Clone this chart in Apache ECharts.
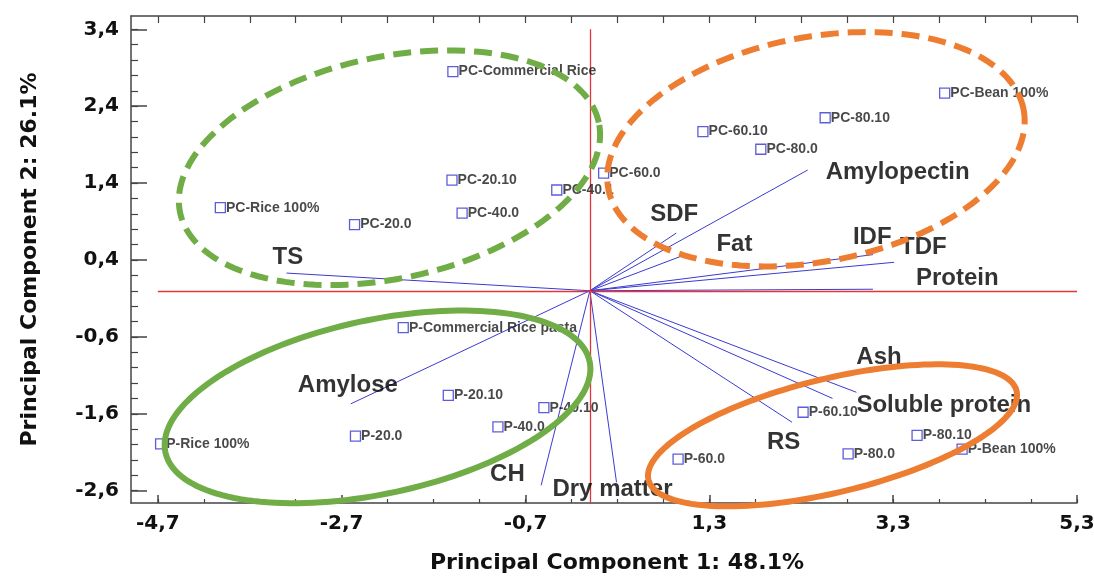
<!DOCTYPE html>
<html>
<head>
<meta charset="utf-8">
<title>PCA biplot</title>
<script src="https://cdn.jsdelivr.net/npm/echarts@6/dist/echarts.min.js"></script>
<style>
  html, body { margin: 0; padding: 0; background: #fff; }
  #biplot { width: 1094px; height: 576px; }
</style>
</head>
<body>
<div id="biplot"></div>
<script>
// scores of the samples (PC1, PC2)
const sampleNames = ['PC-Commercial Rice', 'PC-Rice 100%', 'PC-20.0', 'PC-20.10', 'PC-40.0', 'PC-40.1',
    'PC-60.0', 'PC-60.10', 'PC-80.0', 'PC-80.10', 'PC-Bean 100%',
    'P-Commercial Rice pasta', 'P-Rice 100%', 'P-20.0', 'P-20.10', 'P-40.0', 'P-40.10',
    'P-60.0', 'P-60.10', 'P-80.0', 'P-80.10', 'P-Bean 100%'];
const samplePC1 = [-1.49, -4.02, -2.56, -1.50, -1.39, -0.36, 0.15, 1.23, 1.86, 2.56, 3.86,
    -2.03, -4.67, -2.55, -1.54, -1.00, -0.50, 0.96, 2.32, 2.81, 3.56, 4.05];
const samplePC2 = [2.85, 1.08, 0.86, 1.44, 1.01, 1.31, 1.53, 2.07, 1.84, 2.25, 2.57,
    -0.48, -1.99, -1.89, -1.36, -1.77, -1.52, -2.19, -1.58, -2.12, -1.88, -2.06];

// loadings of the variables
const varNames = ['TS', 'SDF', 'Fat', 'Amylopectin', 'IDF', 'TDF', 'Protein',
    'Ash', 'Soluble protein', 'RS', 'Dry matter', 'CH', 'Amylose'];
const varPC1 = [-3.30, 0.94, 1.04, 2.37, 3.08, 3.31, 3.08, 2.90, 2.64, 2.20, 0.29, -0.53, -2.60];
const varPC2 = [0.23, 0.75, 0.47, 1.57, 0.47, 0.37, 0.02, -1.32, -1.40, -1.71, -2.49, -2.53, -1.47];

// group envelopes: centre, half axes (PC1 units, PC2 units), tilt in degrees
const groupCx = [-2.18, 2.46, -2.31, 2.64];
const groupCy = [1.60, 1.84, -1.51, -1.88];
const groupHalfA = [2.33, 2.30, 2.36, 2.06];
const groupHalfB = [1.44, 1.46, 1.13, 0.74];
const groupTilt = [12.2, 10.8, 12.1, 13.6];

// tick labels
const xTicks = [-4.7, -2.7, -0.7, 1.3, 3.3, 5.3];
const yTicks = [-2.6, -1.6, -0.6, 0.4, 1.4, 2.4, 3.4];

const groupLook = [
    { color: '#70ad47', dashed: true },
    { color: '#ed7d31', dashed: true },
    { color: '#70ad47', dashed: false },
    { color: '#ed7d31', dashed: false }
];

// where each variable name sits relative to the end of its arrow (px)
const varLabelShift = {
    'TS': [-14, -16], 'SDF': [-26, -19], 'Fat': [31, -10], 'Amylopectin': [18, 2],
    'IDF': [-20, -17], 'TDF': [6, -15], 'Protein': [43, -11], 'Ash': [0, -35],
    'Soluble protein': [24, 7], 'RS': [-25, 20], 'Dry matter': [-64, 7],
    'CH': [-51, -11], 'Amylose': [-53, -18]
};

window.onload = init;

function init() {
    dessinerBiplot();
}

function ticksEvery(from, to, step) {
    let out = [];
    for (let v = from; v <= to + 1e-9; v += step) out.push(Math.round(v * 100) / 100);
    return out;
}

function virgule(v) {
    return v.toFixed(1).replace('.', ',');
}

function dessinerBiplot() {
    let chart = echarts.init(document.getElementById('biplot'));

    const xMin = -4.992, xMax = 5.3;
    const yMin = -2.76, yMax = 3.573;
    const xMinor = ticksEvery(-4.7, 5.3, 0.5);
    const yMinor = ticksEvery(-2.6, 3.4, 0.2);
    const axisGrey = '#444';
    const redLine = { color: '#e3343a', width: 1.3, opacity: 1 };
    const tickFont = { color: '#111', fontSize: 20, fontWeight: 'bold', fontFamily: 'DejaVu Sans' };
    const titleFont = { color: '#111', fontSize: 22, fontWeight: 'bold', fontFamily: 'DejaVu Sans' };

    let samples = sampleNames.map((n, i) => ({ name: n, value: [samplePC1[i], samplePC2[i]] }));
    let arrows = varNames.map((n, i) => ({ coords: [[0, 0], [varPC1[i], varPC2[i]]] }));
    let varTags = varNames.map((n, i) => ({
        name: n,
        value: [varPC1[i], varPC2[i]],
        label: { position: varLabelShift[n] }
    }));
    let envelopes = groupCx.map((c, i) => [c, groupCy[i], groupHalfA[i], groupHalfB[i], groupTilt[i]]);

    let options = {
        animation: false,
        grid: { left: 131, right: 17, top: 16, bottom: 73, containLabel: false, outerBoundsMode: 'none' },
        xAxis: [
            {
                type: 'value', min: xMin, max: xMax, position: 'bottom',
                axisLine: { show: true, onZero: false, lineStyle: { color: axisGrey, width: 1.5 } },
                axisTick: { show: true, inside: true, length: 8, customValues: xTicks, lineStyle: { color: axisGrey, width: 1.5 } },
                axisLabel: Object.assign({ customValues: xTicks, formatter: virgule, margin: 11 }, tickFont),
                splitLine: { show: false },
                name: 'Principal Component 1: 48.1%', nameLocation: 'middle', nameGap: 49,
                nameTextStyle: Object.assign({ padding: [0, 0, 0, 26] }, titleFont)
            },
            {
                type: 'value', min: xMin, max: xMax, position: 'bottom',
                axisLine: { show: false, onZero: false },
                axisTick: { show: true, inside: true, length: 4, customValues: xMinor, lineStyle: { color: axisGrey, width: 1.2 } },
                axisLabel: { show: false },
                splitLine: { show: false }
            },
            {
                type: 'value', min: xMin, max: xMax, position: 'top',
                axisLine: { show: true, onZero: false, lineStyle: { color: axisGrey, width: 1.5 } },
                axisTick: { show: true, inside: true, length: 7, customValues: xMinor, lineStyle: { color: axisGrey, width: 1.2 } },
                axisLabel: { show: false },
                splitLine: { show: false }
            }
        ],
        yAxis: [
            {
                type: 'value', min: yMin, max: yMax, position: 'left',
                axisLine: { show: true, onZero: false, lineStyle: { color: axisGrey, width: 1.5 } },
                axisTick: { show: true, inside: true, length: 16, customValues: yTicks, lineStyle: { color: axisGrey, width: 1.5 } },
                axisLabel: Object.assign({ customValues: yTicks, formatter: virgule, margin: 12 }, tickFont),
                splitLine: { show: false },
                name: 'Principal Component 2: 26.1%', nameLocation: 'middle', nameGap: 90, nameRotate: 90,
                nameTextStyle: titleFont
            },
            {
                type: 'value', min: yMin, max: yMax, position: 'left',
                axisLine: { show: false, onZero: false },
                axisTick: { show: true, inside: true, length: 7, customValues: yMinor, lineStyle: { color: axisGrey, width: 1.2 } },
                axisLabel: { show: false },
                splitLine: { show: false }
            }
        ],
        series: [
            {
                type: 'lines', coordinateSystem: 'cartesian2d', z: 2, silent: true,
                lineStyle: { color: '#3a3ad2', width: 1, opacity: 1 },
                data: arrows
            },
            {
                // lignes de reference
                type: 'lines', coordinateSystem: 'cartesian2d', z: 3, silent: true,
                lineStyle: redLine,
                data: [
                    { coords: [[xTicks[0], 0], [xTicks[xTicks.length - 1], 0]], lineStyle: redLine },
                    { coords: [[0, yMin], [0, yTicks[yTicks.length - 1]]], lineStyle: redLine }
                ]
            },
            {
                type: 'scatter', z: 4, silent: true,
                symbol: 'circle', symbolSize: 0.1,
                itemStyle: { color: 'transparent' },
                label: {
                    show: true, formatter: '{b}', align: 'left', verticalAlign: 'middle',
                    color: '#000', fontSize: 24, fontWeight: 'bold', fontFamily: 'Liberation Sans'
                },
                data: varTags
            },
            {
                type: 'scatter', z: 5, silent: true,
                symbol: 'rect', symbolSize: 10,
                itemStyle: { color: 'transparent', borderColor: '#3535cf', borderWidth: 1.3 },
                label: {
                    show: true, position: 'right', distance: 0, formatter: '{b}',
                    color: '#1a1a1a', fontSize: 14, fontWeight: 'bold', fontFamily: 'Liberation Sans'
                },
                data: samples
            },
            {
                type: 'custom', z: 6, silent: true, clip: false,
                dimensions: ['cx', 'cy', 'a', 'b', 'tilt'],
                encode: { x: 0, y: 1 },
                renderItem: function (params, api) {
                    const c = api.coord([api.value(0), api.value(1)]);
                    const ra = api.size([api.value(2), 0])[0];
                    const rb = api.size([0, api.value(3)])[1];
                    const t = api.value(4) * Math.PI / 180;
                    let pts = [];
                    for (let k = 0; k < 160; k++) {
                        const u = k / 160 * 2 * Math.PI;
                        const ex = ra * Math.cos(u), ey = rb * Math.sin(u);
                        pts.push([c[0] + ex * Math.cos(t) - ey * Math.sin(t),
                                  c[1] - (ex * Math.sin(t) + ey * Math.cos(t))]);
                    }
                    const look = groupLook[params.dataIndex];
                    return {
                        type: 'polygon',
                        shape: { points: pts },
                        style: { fill: 'none', stroke: look.color, lineWidth: 6, lineDash: look.dashed ? [18, 9] : null }
                    };
                },
                data: envelopes
            }
        ]
    };

    chart.setOption(options);
}
</script>
</body>
</html>
